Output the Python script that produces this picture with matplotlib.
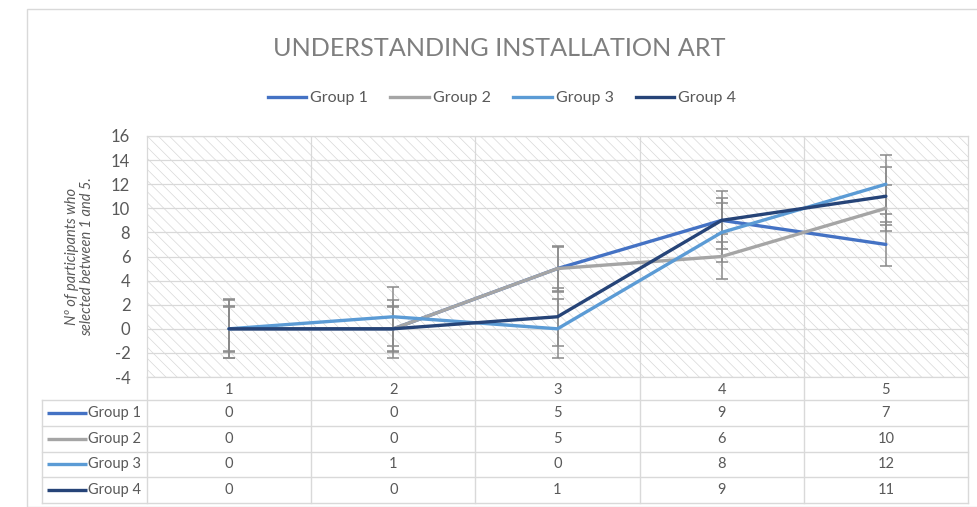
import numpy as np
import matplotlib
matplotlib.use("Agg")
import matplotlib.pyplot as plt
from matplotlib.patches import Rectangle
from matplotlib.lines import Line2D

plt.rcParams['font.family'] = ['Lato', 'DejaVu Sans']
plt.rcParams['hatch.linewidth'] = 0.5

categories = [1, 2, 3, 4, 5]
groups = ["Group 1", "Group 2", "Group 3", "Group 4"]
group1 = [0, 0, 5, 9, 7]
group2 = [0, 0, 5, 6, 10]
group3 = [0, 1, 0, 8, 12]
group4 = [0, 0, 1, 9, 11]
series = [group1, group2, group3, group4]
colors = ["#4472C4", "#A5A5A5", "#5B9BD5", "#264478"]
yticks = list(range(-4, 17, 2))
title = "UNDERSTANDING INSTALLATION ART"
ylabel = "Nº of participants who\nselected between 1 and 5."

W, H = 977, 507
fig = plt.figure(figsize=(W / 100, H / 100), dpi=100)
fig.patch.set_facecolor("white")

def fx(px):
    return px / W

def fy(py):
    return 1 - py / H

TXT = "#595959"
GRID = "#d9d9d9"

# outer chart border
fig.add_artist(Rectangle((fx(27), fy(507)), fx(977) - fx(27) + 0.01, fy(14) - fy(507) + 0.01,
                         transform=fig.transFigure, fill=False, edgecolor="#d9d9d9", lw=1))

# main plot axes
pl, pr, pt, pb = 147, 968, 136, 377
ax = fig.add_axes([fx(pl), fy(pb), fx(pr) - fx(pl), fy(pt) - fy(pb)])
ax.set_xlim(0.5, len(categories) + 0.5)
ax.set_ylim(yticks[0], yticks[-1])
ax.add_patch(Rectangle((0, 0), 1, 1, transform=ax.transAxes, facecolor="white",
                       edgecolor="#d8d8d8", hatch="\\" * 3, lw=0, zorder=0))
for y in yticks:
    ax.axhline(y, color=GRID, lw=0.9, zorder=1)
for i in range(1, len(categories)):
    ax.axvline(i + 0.5, color=GRID, lw=0.9, zorder=1)
for s in ax.spines.values():
    s.set_color(GRID)
    s.set_linewidth(0.9)

x = np.array(categories)
for vals, c, name in zip(series, colors, groups):
    v = np.array(vals, dtype=float)
    se = v.std(ddof=1) / np.sqrt(len(v))  # Excel "standard error" bars
    ax.errorbar(x, v, yerr=se, fmt="none", ecolor="#8a8a8a", elinewidth=1.1,
                capsize=4.5, capthick=1.1, zorder=2)
    ax.plot(x, v, color=c, lw=2.4, label=name, zorder=3, solid_capstyle="round")

ax.set_xticks([])
ax.set_yticks(yticks)
ax.set_yticklabels([str(t) for t in yticks], fontsize=12, color=TXT)
ax.tick_params(axis="y", length=0, pad=12)
ax.set_ylabel(ylabel, fontsize=10.5, color=TXT, style="italic", labelpad=12, linespacing=1.15)

# title
fig.text(fx(499), fy(48), title, ha="center", va="center", fontsize=18.2, color="#7f7f7f")

# legend on top
handles = [Line2D([0], [0], color=c, lw=2.4) for c in colors]
fig.legend(handles, groups, loc="center", bbox_to_anchor=(fx(502), fy(98)), ncol=4,
           frameon=False, fontsize=11.5, handlelength=2.4, handletextpad=0.25,
           columnspacing=1.4, labelcolor=TXT)

# data table
tl, tr, tt, tb = 42, 968, 377, 503
tax = fig.add_axes([fx(tl), fy(tb), fx(tr) - fx(tl), fy(tt) - fy(tb)])
cw = (pr - pl) / len(categories)
left_x = 0.5 - (pl - tl) / cw
tax.set_xlim(left_x, len(categories) + 0.5)
tax.set_ylim(tb, tt)
tax.axis("off")
header_h = 23
row_h = (tb - tt - header_h) / len(groups)
for r in range(len(groups)):
    yy = tt + header_h + r * row_h
    tax.plot([left_x, len(categories) + 0.5], [yy, yy], color=GRID, lw=1, clip_on=False)
tax.plot([left_x, len(categories) + 0.5], [tb, tb], color=GRID, lw=1, clip_on=False)
tax.plot([left_x, left_x], [tt + header_h, tb], color=GRID, lw=1, clip_on=False)
for i in range(len(categories) + 1):
    tax.plot([i + 0.5, i + 0.5], [tt, tb], color=GRID, lw=1, clip_on=False)
# header
for c in categories:
    tax.text(c, tt + header_h / 2 + 1, str(c), ha="center", va="center", fontsize=10.5, color=TXT)
# rows
key_w = 40 / cw
for r, (name, vals, col) in enumerate(zip(groups, series, colors)):
    yc = tt + header_h + (r + 0.5) * row_h
    tax.plot([left_x + 5 / cw, left_x + 5 / cw + key_w], [yc, yc], color=col, lw=2.4,
             solid_capstyle="butt")
    tax.text(0.5 - 6 / cw, yc, name, ha="right", va="center", fontsize=10.5, color=TXT)
    for c, v in zip(categories, vals):
        tax.text(c, yc, str(v), ha="center", va="center", fontsize=10.5, color=TXT)

fig.savefig("out.png", dpi=100, facecolor="white")
